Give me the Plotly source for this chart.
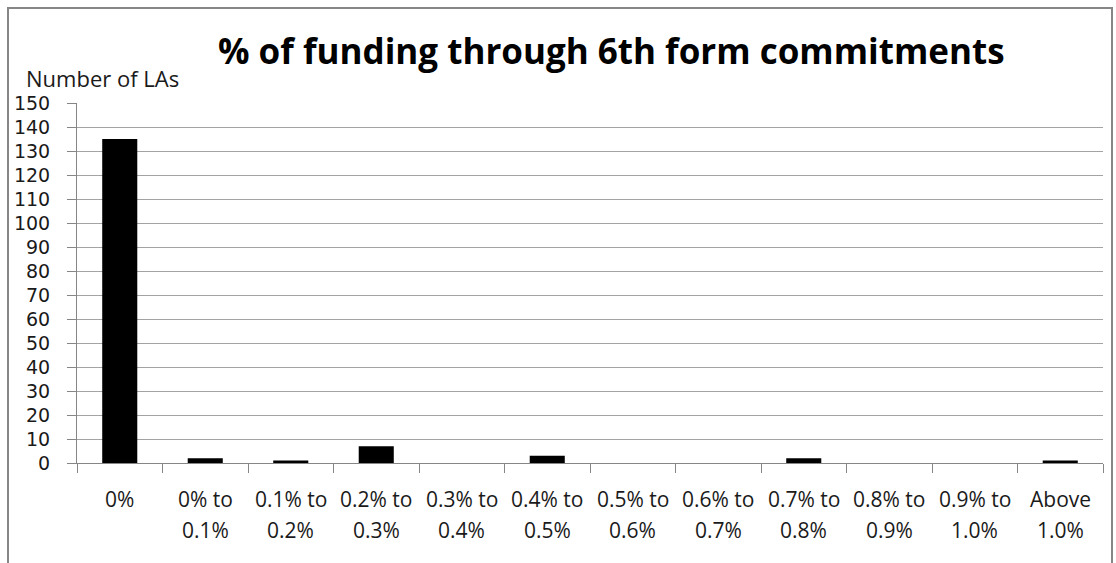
import plotly.graph_objects as go

categories = ["0%", "0% to 0.1%", "0.1% to 0.2%", "0.2% to 0.3%", "0.3% to 0.4%",
              "0.4% to 0.5%", "0.5% to 0.6%", "0.6% to 0.7%", "0.7% to 0.8%",
              "0.8% to 0.9%", "0.9% to 1.0%", "Above 1.0%"]
counts = [135, 2, 1, 7, 0, 3, 0, 0, 2, 0, 0, 1]
y_ticks = list(range(0, 151, 10))
title_text = "% of funding through 6th form commitments"
y_title = "Number of LAs"

FONT = "Open Sans"
GRID = "#a3a3a3"
AXIS = "#868686"
TXT = "#1a1a1a"

W, H = 1116, 563
L, R, T, B = 77, 13, 103, 100
pw, ph = W - L - R, H - T - B

def px_x(px):
    return (px - L) / pw

def px_y(py):
    return (H - B - py) / ph

fig = go.Figure()
fig.add_trace(go.Bar(x=categories, y=counts, marker=dict(color="black", line=dict(width=0)),
                     width=0.41, showlegend=False))

annotations = []
for cat in categories:
    parts = cat.rsplit(" ", 1) if " " in cat else [cat]
    for i, line in enumerate(parts):
        annotations.append(dict(x=cat, xref="x", y=0, yref="y", text=line, showarrow=False,
                                yanchor="middle", xanchor="center", yshift=-36 - 31 * i,
                                font=dict(family=FONT, size=21, color=TXT)))

annotations.append(dict(x=px_x(611), xref="paper", y=px_y(50), yref="paper", text="<b>" + title_text + "</b>",
                        showarrow=False, xanchor="center", yanchor="middle",
                        font=dict(family=FONT, size=35, color="black")))
annotations.append(dict(x=px_x(24), xref="paper", y=px_y(78), yref="paper", text=y_title,
                        showarrow=False, xanchor="left", yanchor="middle",
                        font=dict(family=FONT, size=22, color=TXT)))

fig.update_layout(
    width=W, height=H,
    margin=dict(l=L, r=R, t=T, b=B, pad=0),
    paper_bgcolor="white", plot_bgcolor="white",
    annotations=annotations,
    shapes=[dict(type="rect", xref="paper", yref="paper",
                 x0=px_x(8), x1=px_x(1112), y0=px_y(600), y1=px_y(8),
                 line=dict(color=AXIS, width=2), fillcolor="rgba(0,0,0,0)", layer="above")],
    xaxis=dict(type="category", showticklabels=False, tickson="boundaries", ticks="outside",
               ticklen=9, tickcolor=AXIS, showline=True, linecolor=AXIS, linewidth=1,
               showgrid=False, zeroline=False, fixedrange=True),
    yaxis=dict(range=[0, 150], tickvals=y_ticks, ticks="outside", ticklen=9, tickcolor=AXIS,
               showline=True, linecolor=AXIS, linewidth=1, showgrid=True, gridcolor=GRID,
               gridwidth=1, zeroline=False, ticklabelstandoff=13, fixedrange=True,
               tickfont=dict(family="DejaVu Sans", size=19, color=TXT)),
)

fig.write_html("out.html", config={"displayModeBar": False},
               post_script="document.body.style.margin='0px';")
